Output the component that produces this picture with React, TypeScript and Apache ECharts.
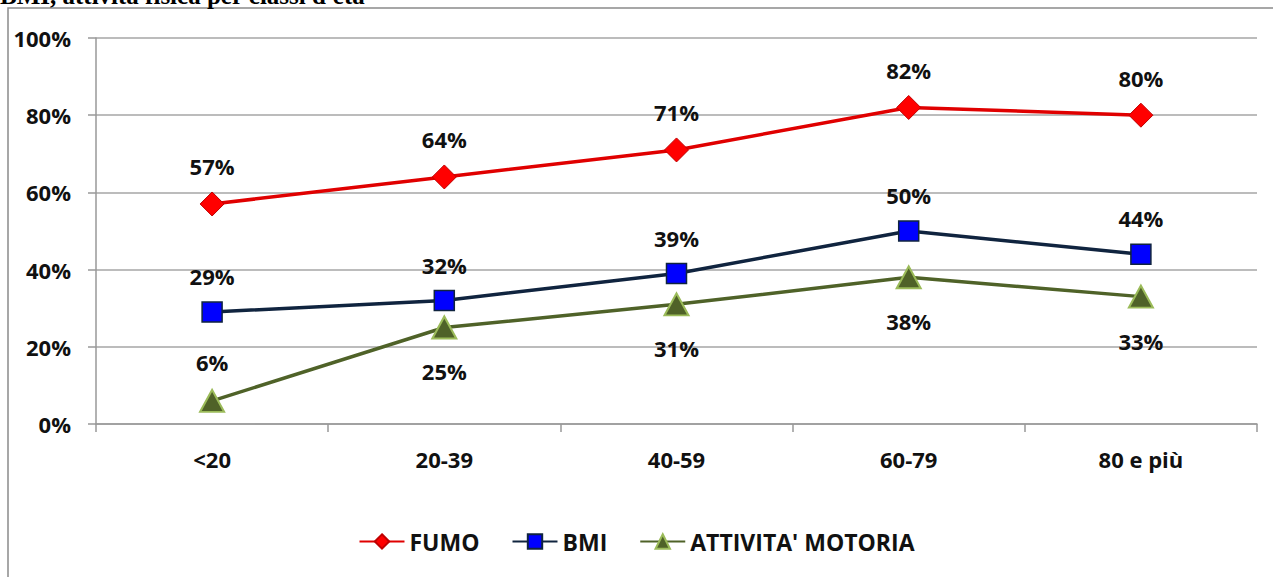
import React, { useEffect, useRef } from "react";
import * as echarts from "echarts";

const categories = ["<20", "20-39", "40-59", "60-79", "80 e più"];
const fumo = [57, 64, 71, 82, 80];
const bmi = [29, 32, 39, 50, 44];
const attivita = [6, 25, 31, 38, 33];
const yTicks = [0, 20, 40, 60, 80, 100];
const titleText = "BMI, attività fisica per classi d'età";

const FONT = "'Open Sans', 'Noto Sans', sans-serif";

export default function App() {
  const ref = useRef<HTMLDivElement>(null);
  useEffect(() => {
    document.body.style.margin = "0";
    const chart = echarts.init(ref.current!, null, { renderer: "svg" });
    const labelStyle = {
      show: true,
      formatter: (p: any) => p.value + "%",
      fontFamily: FONT,
      fontSize: 22,
      fontWeight: "bold" as const,
      color: "#111",
    };
    chart.setOption({
      animation: false,
      backgroundColor: "#fff",
      graphic: [
        {
          type: "rect",
          shape: { x: 8, y: 8, width: 1400, height: 700 },
          style: { fill: "none", stroke: "#8a8a8a", lineWidth: 1.5 },
          silent: true,
        },
        {
          type: "text",
          left: 0,
          top: -17,
          style: {
            text: titleText,
            font: "bold 25px 'Liberation Serif', serif",
            fill: "#000",
          },
        },
      ],
      grid: { left: 96, right: 16, top: 38, bottom: 153 },
      legend: {
        bottom: 19,
        left: "center",
        itemWidth: 45,
        itemHeight: 18,
        itemGap: 32,
        textStyle: { fontFamily: FONT, fontSize: 23, fontWeight: "bold", color: "#111" },
        data: ["FUMO", "BMI", "ATTIVITA' MOTORIA"],
      },
      xAxis: {
        type: "category",
        data: categories,
        boundaryGap: true,
        axisLine: { lineStyle: { color: "#999", width: 1.5 } },
        axisTick: { show: true, length: 8, lineStyle: { color: "#999", width: 1.5 } },
        axisLabel: {
          margin: 24,
          fontFamily: FONT,
          fontSize: 22,
          fontWeight: "bold",
          color: "#111",
        },
      },
      yAxis: {
        type: "value",
        min: 0,
        max: 100,
        interval: 20,
        axisLine: { show: true, lineStyle: { color: "#999", width: 1.5 } },
        axisTick: { show: true, length: 8, lineStyle: { color: "#999", width: 1.5 } },
        splitLine: { lineStyle: { color: "#a6a6a6", width: 1.5 } },
        axisLabel: {
          margin: 25,
          formatter: (v: number) => (yTicks.includes(v) ? v + "%" : ""),
          fontFamily: FONT,
          fontSize: 22,
          fontWeight: "bold",
          color: "#111",
        },
      },
      series: [
        {
          name: "FUMO",
          type: "line",
          data: fumo,
          symbol: "diamond",
          symbolSize: [24, 24],
          lineStyle: { color: "#e00000", width: 3.5 },
          itemStyle: { color: "#ff0000", borderColor: "#c00000", borderWidth: 1 },
          label: { ...labelStyle, position: "top", distance: 14 },
          z: 3,
        },
        {
          name: "BMI",
          type: "line",
          data: bmi,
          symbol: "rect",
          symbolSize: 20,
          lineStyle: { color: "#10243f", width: 3.5 },
          itemStyle: { color: "#0000ff", borderColor: "#10243f", borderWidth: 1.5 },
          label: { ...labelStyle, position: "top", distance: 14 },
          z: 2,
        },
        {
          name: "ATTIVITA' MOTORIA",
          type: "line",
          data: attivita.map((v, i) => ({
            value: v,
            label: i === 0 ? { position: "top", distance: 16 } : { position: "bottom", distance: 21 },
          })),
          symbol: "triangle",
          symbolSize: [24, 22],
          lineStyle: { color: "#4f6228", width: 3.5 },
          itemStyle: { color: "#4f6228", borderColor: "#9bbb59", borderWidth: 2 },
          label: { ...labelStyle },
          z: 2,
        },
      ],
    });
    return () => chart.dispose();
  }, []);
  return (
    <div
      ref={ref}
      style={{ position: "fixed", left: 0, top: 0, width: 1273, height: 577 }}
    />
  );
}
